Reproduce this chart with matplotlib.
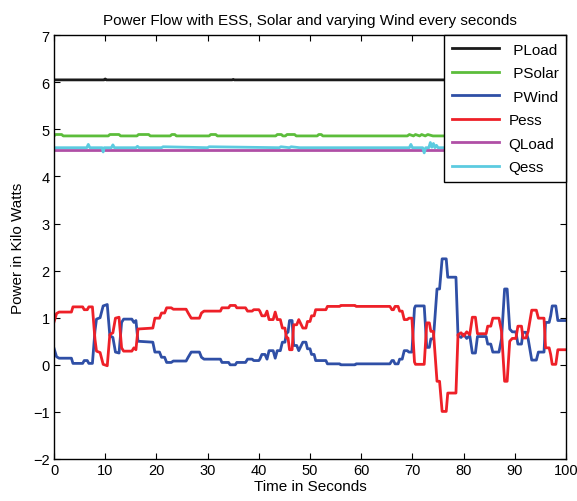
import matplotlib
matplotlib.use('Agg')
import matplotlib.pyplot as plt

plt.rcParams['font.family'] = ['Liberation Sans', 'DejaVu Sans']

# wind and storage power, knot points (seconds, kW)
t_wind = [0, 0.5, 1.0, 3.4, 3.7, 5.6, 5.9, 6.5, 6.8, 7.5, 8.0, 8.3, 9.0, 9.6, 10.4, 10.9,
          11.5, 12.0, 12.7, 13.2, 13.6, 15.2, 15.6, 16.0, 16.4, 19.3, 19.7, 20.6, 21.0, 21.6,
          22.0, 22.9, 23.3, 25.8, 26.2, 26.8, 28.4, 28.8, 29.3, 32.5, 32.8, 34.1, 34.4, 35.4,
          35.7, 37.4, 37.8, 38.7, 39.0, 40.0, 40.2, 40.6, 41.2, 41.6, 42.0, 42.8, 43.2, 43.6,
          44.2, 44.6, 45.1, 45.4, 45.7, 46.0, 46.5, 46.8, 47.4, 47.8, 48.6, 49.2, 49.5, 50.0,
          50.3, 50.8, 51.1, 53.1, 53.4, 55.8, 56.0, 58.8, 59.0, 65.6, 66.0, 66.3, 66.6, 67.2,
          67.5, 68.0, 68.4, 69.0, 69.3, 69.9, 70.4, 70.6, 72.3, 72.8, 73.3, 73.6, 74.1, 74.8,
          75.3, 75.8, 76.6, 76.9, 78.5, 78.9, 79.5, 80.0, 80.6, 81.2, 81.7, 82.3, 82.7, 84.4,
          84.7, 85.3, 85.7, 86.9, 87.4, 88.0, 88.5, 89.0, 89.5, 90.2, 90.6, 91.3, 91.6, 92.2,
          92.6, 93.3, 94.2, 94.6, 95.7, 96.0, 96.7, 97.0, 97.3, 98.0, 98.4, 100]
p_wind = [0.35, 0.17, 0.14, 0.14, 0.03, 0.03, 0.09, 0.09, 0.03, 0.03, 0.72, 0.97, 1.0, 1.25, 1.28, 0.62,
          0.58, 0.27, 0.25, 0.9, 0.97, 0.97, 0.9, 0.94, 0.5, 0.48, 0.27, 0.27, 0.16, 0.16,
          0.05, 0.05, 0.08, 0.08, 0.16, 0.27, 0.27, 0.16, 0.12, 0.12, 0.05, 0.05, 0.0, 0.0,
          0.05, 0.05, 0.12, 0.12, 0.09, 0.09, 0.12, 0.22, 0.22, 0.12, 0.3, 0.3, 0.14, 0.3,
          0.3, 0.48, 0.48, 0.69, 0.69, 0.94, 0.94, 0.41, 0.41, 0.3, 0.48, 0.48, 0.34, 0.34,
          0.22, 0.22, 0.09, 0.09, 0.02, 0.02, 0.0, 0.0, 0.02, 0.02, 0.09, 0.09, 0.02, 0.02,
          0.12, 0.12, 0.3, 0.3, 0.27, 0.27, 1.2, 1.25, 1.25, 0.37, 0.37, 0.55, 0.55, 1.61,
          1.61, 2.25, 2.25, 1.86, 1.86, 0.62, 0.58, 0.65, 0.56, 0.62, 0.25, 0.25, 0.6, 0.6,
          0.44, 0.44, 0.27, 0.27, 0.55, 1.61, 1.61, 0.76, 0.7, 0.7, 0.44, 0.44, 0.69, 0.69,
          0.55, 0.1, 0.1, 0.27, 0.27, 0.9, 0.9, 1.04, 1.25, 1.25, 0.94, 0.94]
p_ess = [0.91, 1.09, 1.12, 1.12, 1.23, 1.23, 1.17, 1.17, 1.23, 1.23, 0.54, 0.29, 0.26, 0.01, -0.02, 0.64,
         0.68, 0.99, 1.01, 0.36, 0.29, 0.29, 0.36, 0.32, 0.76, 0.78, 0.99, 0.99, 1.1, 1.1,
         1.21, 1.21, 1.18, 1.18, 1.1, 0.99, 0.99, 1.1, 1.14, 1.14, 1.21, 1.21, 1.26, 1.26,
         1.21, 1.21, 1.14, 1.14, 1.17, 1.17, 1.14, 1.04, 1.04, 1.14, 0.96, 0.96, 1.12, 0.96,
         0.96, 0.78, 0.78, 0.57, 0.57, 0.32, 0.32, 0.85, 0.85, 0.96, 0.78, 0.78, 0.92, 0.92,
         1.04, 1.04, 1.17, 1.17, 1.24, 1.24, 1.26, 1.26, 1.24, 1.24, 1.17, 1.17, 1.24, 1.24,
         1.14, 1.14, 0.96, 0.96, 0.99, 0.99, 0.06, 0.01, 0.01, 0.89, 0.89, 0.71, 0.71, -0.35,
         -0.35, -0.99, -0.99, -0.6, -0.6, 0.64, 0.68, 0.61, 0.7, 0.64, 1.01, 1.01, 0.66, 0.66,
         0.82, 0.82, 0.99, 0.99, 0.71, -0.35, -0.35, 0.5, 0.56, 0.56, 0.82, 0.82, 0.57, 0.57,
         0.71, 1.16, 1.16, 0.99, 0.99, 0.36, 0.36, 0.22, 0.01, 0.01, 0.32, 0.32]

# load and solar side, knot points
t_load = [0, 9.8, 10.0, 10.2, 34.8, 35.0, 35.2, 100]
p_load = [6.05, 6.05, 6.07, 6.05, 6.05, 6.06, 6.05, 6.05]

t_solar = [0, 0.3, 1.5, 1.8, 10.6, 10.9, 12.7, 13.0, 16.2, 16.5, 18.5, 18.8, 22.7, 23.0, 23.6,
           23.9, 30.3, 30.6, 31.6, 31.9, 43.3, 43.6, 44.4, 44.7, 45.2, 45.5, 47.0, 47.3, 51.4,
           51.7, 52.2, 52.5, 69.0, 69.4, 70.2, 70.6, 71.4, 71.8, 72.5, 73.0, 74.0, 74.5, 100]
p_solar = [4.86, 4.89, 4.89, 4.86, 4.86, 4.89, 4.89, 4.86, 4.86, 4.89, 4.89, 4.86, 4.86, 4.89, 4.89,
           4.86, 4.86, 4.89, 4.89, 4.86, 4.86, 4.89, 4.89, 4.86, 4.86, 4.89, 4.89, 4.86, 4.86,
           4.89, 4.89, 4.86, 4.86, 4.89, 4.86, 4.89, 4.86, 4.89, 4.86, 4.89, 4.86, 4.86, 4.86]

t_qload = [0, 100]
q_load = [4.56, 4.56]

t_qess = [0, 6.4, 6.7, 7.0, 9.4, 9.6, 9.8, 11.2, 11.5, 11.8, 16.0, 16.3, 16.6, 21.0, 21.3,
          30.0, 30.3, 44.0, 44.3, 46.0, 46.3, 48.0, 48.3, 69.4, 69.7, 70.0, 72.0, 72.3,
          72.6, 73.2, 73.5, 73.8, 74.1, 74.4, 74.7, 75.0, 86.5, 95.0, 95.3, 95.6, 96.2,
          96.5, 96.8, 100]
q_ess = [4.61, 4.61, 4.68, 4.61, 4.61, 4.52, 4.61, 4.61, 4.67, 4.61, 4.61, 4.64, 4.61, 4.61, 4.63,
         4.61, 4.63, 4.61, 4.63, 4.61, 4.63, 4.61, 4.61, 4.61, 4.68, 4.61, 4.61, 4.50,
         4.61, 4.61, 4.72, 4.62, 4.70, 4.61, 4.66, 4.61, 4.61, 4.61, 4.70, 4.52, 4.61,
         4.68, 4.61, 4.61]

fig = plt.figure(figsize=(5.77, 5.02), dpi=100)
ax = fig.add_axes([0.0936, 0.0837, 0.8874, 0.8443])

lw = 2.0
ax.plot(t_load, p_load, color='#1a1a1a', lw=lw, label=' PLoad')
ax.plot(t_solar, p_solar, color='#5cbd3b', lw=lw, label=' PSolar')
ax.plot(t_wind, p_wind, color='#2f4fa6', lw=lw, label=' PWind')
ax.plot(t_wind, p_ess, color='#ee2028', lw=lw, label='Pess')
ax.plot(t_qload, q_load, color='#b04fa6', lw=lw, label='QLoad')
ax.plot(t_qess, q_ess, color='#5ccbe0', lw=lw, label='Qess')

ax.set_xlim(0, 100)
ax.set_ylim(-2, 7)
ax.set_xticks(range(0, 101, 10))
ax.set_yticks(range(-2, 8))
ax.tick_params(direction='in', top=True, right=True, length=4, labelsize=10.5, pad=3)
for s in ax.spines.values():
    s.set_linewidth(1.0)

ax.set_title('Power Flow with ESS, Solar and varying Wind every seconds', fontsize=11, pad=8)
ax.set_xlabel('Time in Seconds', fontsize=11, labelpad=1)
ax.set_ylabel('Power in Kilo Watts', fontsize=11, labelpad=6)

leg = ax.legend(loc='upper right', fontsize=11, fancybox=False, framealpha=1,
                edgecolor='black', borderaxespad=0, handlelength=3.1,
                labelspacing=0.62, borderpad=0.5, handletextpad=0.6)
leg.get_frame().set_linewidth(1.0)

fig.savefig('out.png', dpi=100)
